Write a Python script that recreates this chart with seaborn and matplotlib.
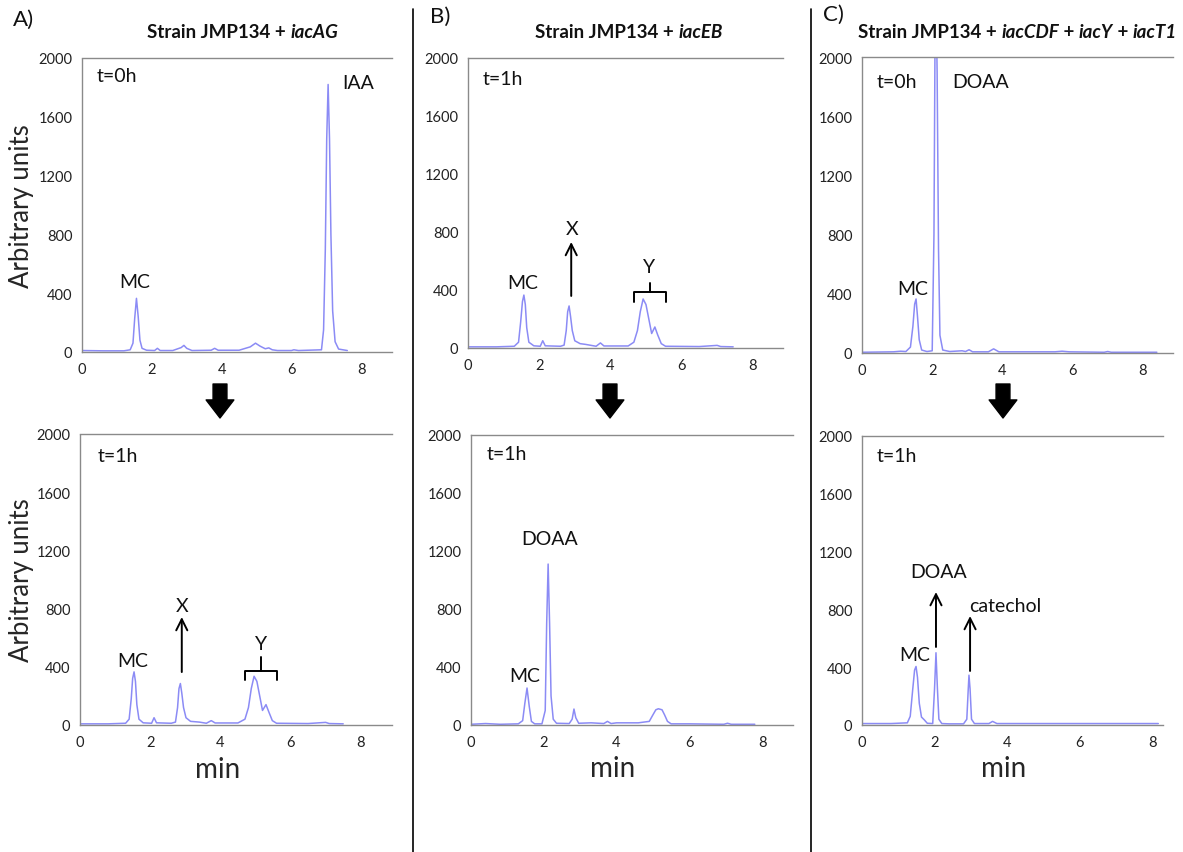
import matplotlib
matplotlib.use("Agg")
import matplotlib.pyplot as plt
from matplotlib.lines import Line2D
from matplotlib.ticker import MultipleLocator
import seaborn as sns

# ---- chromatogram traces (time in min, signal in arbitrary units) ----
# A) iacAG, t=0h
A0_TIME = [0.0, 0.6, 1.2, 1.38, 1.46, 1.51, 1.56, 1.61, 1.66, 1.72, 1.85, 2.08, 2.16, 2.24, 2.6,
           2.84, 2.92, 3.0, 3.15, 3.7, 3.8, 3.9, 4.5, 4.82, 4.97, 5.1, 5.25, 5.35, 5.45, 5.6,
           6.0, 6.07, 6.2, 6.86, 6.92, 6.97, 7.01, 7.05, 7.09, 7.13, 7.18, 7.25, 7.35, 7.6]
A0_SIGNAL = [10, 8, 8, 15, 60, 230, 365, 240, 80, 25, 12, 10, 25, 10, 10,
             30, 45, 25, 10, 12, 25, 12, 12, 35, 60, 40, 22, 28, 15, 10,
             10, 15, 10, 15, 150, 700, 1450, 1820, 1450, 800, 280, 70, 20, 10]
# A) iacAG, t=1h
A1_TIME = [0.0, 0.8, 1.3, 1.4, 1.46, 1.5, 1.54, 1.58, 1.62, 1.68, 1.8, 2.04, 2.11, 2.18, 2.6,
           2.72, 2.78, 2.82, 2.86, 2.9, 2.95, 3.02, 3.15, 3.4, 3.6, 3.74, 3.85, 4.5, 4.7, 4.8,
           4.88, 4.96, 5.04, 5.12, 5.2, 5.3, 5.38, 5.48, 5.6, 6.5, 7.0, 7.1, 7.5]
A1_SIGNAL = [8, 8, 12, 40, 180, 320, 365, 300, 140, 40, 15, 12, 50, 15, 12,
             20, 120, 250, 285, 220, 120, 50, 25, 20, 12, 30, 14, 14, 40, 120,
             250, 335, 300, 200, 100, 140, 90, 30, 12, 10, 18, 10, 8]
# B) iacEB, t=1h (upper)
B0_TIME = [0.0, 0.8, 1.3, 1.42, 1.48, 1.53, 1.57, 1.61, 1.65, 1.71, 1.85, 2.03, 2.1, 2.17, 2.6,
           2.7, 2.76, 2.8, 2.84, 2.88, 2.93, 3.0, 3.15, 3.3, 3.6, 3.72, 3.82, 4.5, 4.66, 4.76,
           4.84, 4.92, 5.0, 5.08, 5.16, 5.25, 5.33, 5.43, 5.55, 6.5, 7.0, 7.1, 7.45]
B0_SIGNAL = [8, 8, 12, 40, 180, 320, 365, 300, 140, 40, 15, 12, 50, 15, 12,
             20, 120, 250, 290, 220, 120, 50, 30, 25, 12, 35, 14, 14, 40, 120,
             250, 338, 300, 200, 100, 145, 90, 30, 12, 10, 18, 10, 8]
# B) iacEB, t=1h (lower)
B1_TIME = [0.0, 0.4, 0.8, 1.3, 1.42, 1.48, 1.54, 1.6, 1.66, 1.75, 1.95, 2.04, 2.08, 2.12, 2.16,
           2.2, 2.26, 2.35, 2.7, 2.78, 2.83, 2.88, 2.96, 3.3, 3.65, 3.75, 3.85, 4.0, 4.6, 4.9,
           5.0, 5.08, 5.15, 5.25, 5.32, 5.4, 5.5, 6.0, 6.95, 7.05, 7.15, 7.8]
B1_SIGNAL = [5, 10, 5, 8, 30, 150, 255, 130, 25, 8, 8, 100, 700, 1110, 700,
             200, 40, 12, 10, 40, 110, 50, 12, 15, 10, 25, 10, 15, 15, 25,
             70, 105, 112, 105, 70, 25, 8, 8, 5, 12, 5, 5]
# C) iacCDF + iacY + iacT1, t=0h
C0_TIME = [0.0, 0.9, 1.1, 1.25, 1.38, 1.45, 1.5, 1.54, 1.58, 1.63, 1.7, 1.85, 2.0, 2.05, 2.08,
           2.11, 2.14, 2.18, 2.22, 2.3, 2.5, 2.85, 2.95, 3.05, 3.15, 3.6, 3.75, 3.9, 5.5, 5.7,
           5.9, 6.9, 7.0, 7.1, 8.4]
C0_SIGNAL = [5, 8, 12, 10, 40, 180, 330, 365, 250, 90, 20, 10, 15, 800, 2100,
             2400, 1900, 700, 120, 20, 10, 15, 10, 22, 8, 8, 28, 8, 8, 12,
             8, 5, 10, 5, 5]
# C) iacCDF + iacY + iacT1, t=1h
C1_TIME = [0.0, 0.8, 1.25, 1.33, 1.4, 1.45, 1.49, 1.53, 1.58, 1.64, 1.72, 1.8, 1.95, 2.0, 2.04,
           2.08, 2.12, 2.2, 2.4, 2.8, 2.89, 2.93, 2.95, 2.98, 3.02, 3.1, 3.5, 3.6, 3.72, 8.17]
C1_SIGNAL = [10, 10, 15, 60, 250, 380, 405, 330, 150, 55, 35, 12, 10, 250, 500,
             250, 40, 10, 8, 8, 40, 250, 345, 250, 40, 10, 10, 25, 10, 10]

Y_TICKS = [0, 400, 800, 1200, 1600, 2000]
X_TICKS = [0, 2, 4, 6, 8]

LINE_COLOR = "#8b8bf5"
SPINE_COLOR = "#8a8a8a"

W, H = 1183, 853

sns.set_theme(style="white")
plt.rcParams["font.family"] = ["Lato", "DejaVu Sans"]

fig = plt.figure(figsize=(W / 100, H / 100), dpi=100)


def px_rect(left, right, top, bottom):
    return [left / W, 1 - bottom / H, (right - left) / W, (bottom - top) / H]


def make_panel(rect, xmax, times, signal):
    ax = fig.add_axes(rect)
    sns.lineplot(x=times, y=signal, ax=ax, color=LINE_COLOR, linewidth=1.1, estimator=None)
    ax.set_xlim(0, xmax)
    ax.set_ylim(0, 2000)
    ax.set_xticks(X_TICKS)
    ax.set_yticks(Y_TICKS)
    ax.xaxis.set_minor_locator(MultipleLocator(0.5))
    ax.yaxis.set_minor_locator(MultipleLocator(100))
    ax.tick_params(axis="both", which="major", labelsize=10.5, colors="#222222",
                   length=3, width=0.8, direction="out", pad=4)
    ax.tick_params(axis="both", which="minor", length=2, width=0.6, color=SPINE_COLOR)
    ax.tick_params(axis="x", which="major", color=SPINE_COLOR)
    ax.tick_params(axis="y", which="major", color=SPINE_COLOR)
    ax.spines["right"].set_visible(False)
    for side in ["top", "bottom", "left"]:
        ax.spines[side].set_color(SPINE_COLOR)
        ax.spines[side].set_linewidth(1.0)
    ax.spines["left"].set_linestyle((0, (1, 1)))
    ax.set_xlabel("")
    ax.set_ylabel("")
    ax.grid(False)
    return ax


def label(ax, x, y, s, ha="center"):
    ax.text(x, y, s, fontsize=14, ha=ha, va="center", color="#111111")


def up_arrow(ax, x, y0, y1):
    ax.annotate("", xy=(x, y1), xytext=(x, y0),
                arrowprops=dict(arrowstyle="->", lw=1.4, color="black",
                                mutation_scale=20, shrinkA=0, shrinkB=0))


def bracket(ax, x0, x1, y_bar, y_leg, y_tip):
    xm = (x0 + x1) / 2
    ax.plot([x0, x0, x1, x1], [y_leg, y_bar, y_bar, y_leg], color="black", lw=1.4)
    ax.plot([xm, xm], [y_bar, y_tip], color="black", lw=1.4)


# ---- panel A ----
axA0 = make_panel(px_rect(82, 392, 59, 353), 8.88, A0_TIME, A0_SIGNAL)
label(axA0, 0.43, 1880, "t=0h", ha="left")
label(axA0, 1.5, 480, "MC")
label(axA0, 7.9, 1830, "IAA")
axA0.set_ylabel("Arbitrary units", fontsize=18.5)
axA0.yaxis.set_label_coords(-0.155, 0.5)

axA1 = make_panel(px_rect(80, 392, 435, 726), 8.89, A1_TIME, A1_SIGNAL)
label(axA1, 0.51, 1850, "t=1h", ha="left")
label(axA1, 1.5, 440, "MC")
up_arrow(axA1, 2.9, 364, 742)
label(axA1, 2.92, 820, "X")
bracket(axA1, 4.7, 5.6, 370, 310, 470)
label(axA1, 5.15, 560, "Y")
axA1.set_ylabel("Arbitrary units", fontsize=18.5)
axA1.yaxis.set_label_coords(-0.148, 0.5)
axA1.set_xlabel("min", fontsize=20)
axA1.xaxis.set_label_coords(0.44, -0.105)

# ---- panel B ----
axB0 = make_panel(px_rect(468, 783, 59, 349), 8.85, B0_TIME, B0_SIGNAL)
label(axB0, 0.42, 1860, "t=1h", ha="left")
label(axB0, 1.55, 455, "MC")
up_arrow(axB0, 2.9, 359, 731)
label(axB0, 2.92, 821, "X")
bracket(axB0, 4.66, 5.56, 386, 317, 445)
label(axB0, 5.1, 560, "Y")

axB1 = make_panel(px_rect(471, 793, 436, 726), 8.85, B1_TIME, B1_SIGNAL)
label(axB1, 0.44, 1870, "t=1h", ha="left")
label(axB1, 2.17, 1283, "DOAA")
label(axB1, 1.48, 340, "MC")
axB1.set_xlabel("min", fontsize=20)
axB1.xaxis.set_label_coords(0.44, -0.105)

# ---- panel C ----
axC0 = make_panel(px_rect(862, 1173, 58, 354), 8.86, C0_TIME, C0_SIGNAL)
label(axC0, 0.43, 1832, "t=0h", ha="left")
label(axC0, 2.56, 1832, "DOAA", ha="left")
label(axC0, 1.45, 433, "MC")

axC1 = make_panel(px_rect(862, 1163, 437, 726), 8.3, C1_TIME, C1_SIGNAL)
label(axC1, 0.41, 1868, "t=1h", ha="left")
label(axC1, 1.46, 491, "MC")
up_arrow(axC1, 2.04, 540, 920)
label(axC1, 2.1, 1059, "DOAA")
up_arrow(axC1, 2.98, 374, 754)
label(axC1, 2.95, 830, "catechol", ha="left")
axC1.set_xlabel("min", fontsize=20)
axC1.xaxis.set_label_coords(0.47, -0.105)

# ---- panel letters, titles, separators, block arrows ----
for s, x, y in [("A)", 13, 20), ("B)", 430, 17), ("C)", 823, 15)]:
    fig.text(x / W, 1 - y / H, s, fontsize=16, ha="left", va="center", color="#111111")


def title(x, y, parts):
    prev = fig.text(x / W, 1 - y / H, parts[0][0], fontsize=13.5, fontweight="bold",
                    fontstyle=parts[0][1], ha="left", va="center", color="#111111")
    for txt, style in parts[1:]:
        prev = fig.axes[0].annotate(txt, xy=(1, 0), xycoords=prev, fontsize=13.5,
                                    fontweight="bold", fontstyle=style, ha="left", va="bottom",
                                    color="#111111", annotation_clip=False)


title(147, 32, [("Strain JMP134 + ", "normal"), ("iacAG", "italic")])
title(535, 32, [("Strain JMP134 + ", "normal"), ("iacEB", "italic")])
title(858, 32, [("Strain JMP134 + ", "normal"), ("iacCDF", "italic"), (" + ", "normal"),
                ("iacY", "italic"), (" + ", "normal"), ("iacT1", "italic")])

for xs in [413, 811]:
    fig.add_artist(Line2D([xs / W, xs / W], [0, 1 - 10 / H], transform=fig.transFigure,
                          color="black", lw=1.2))

for xa in [220, 610, 1003]:
    fig.axes[0].annotate("", xy=(xa, H - 419), xytext=(xa, H - 385), xycoords="figure pixels",
                         textcoords="figure pixels", annotation_clip=False,
                         arrowprops=dict(arrowstyle="simple,head_length=0.65,head_width=1.0,tail_width=0.5",
                                         mutation_scale=20, color="black", shrinkA=0, shrinkB=0))

fig.savefig("out.png", dpi=100)
